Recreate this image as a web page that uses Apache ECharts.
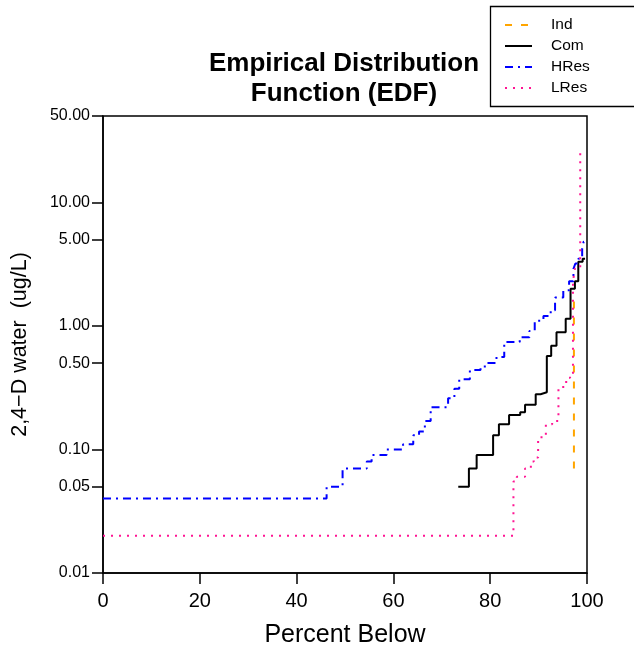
<!DOCTYPE html>
<html><head><meta charset="utf-8">
<script src="https://cdn.jsdelivr.net/npm/echarts@6/dist/echarts.min.js"></script>
<style>html,body{margin:0;padding:0;background:#fff}#c{width:634px;height:650px}</style>
</head><body><div id="c"></div>
<script>
// ---- data (percent below, concentration ug/L), each pair = start of a step level ----
const seriesNames = ['Ind', 'Com', 'HRes', 'LRes'];
const indPct = [97.3, 97.3];
const indVal = [0.07, 1.6];
const comPct = [73.4, 75.6, 77.2, 80.6, 81.8, 83.9, 86.2, 87.2, 89.4, 90.4, 91.7, 92.6, 93.7, 95.6, 96.6, 97.5, 98.2, 99.1, 99.6];
const comVal = [0.05, 0.07, 0.09, 0.13, 0.16, 0.19, 0.20, 0.23, 0.28, 0.29, 0.57, 0.69, 0.89, 1.14, 2.0, 2.3, 3.3, 3.5, 3.5];
const hresPct = [0, 46.2, 49.5, 54.5, 55.5, 58.6, 62.0, 64.1, 65.3, 66.5, 67.7, 71.3, 72.6, 73.6, 75.8, 78.0, 79.3, 81.3, 82.9, 86.1, 88.1, 89.2, 91.0, 92.5, 93.4, 95.1, 96.3, 97.2, 97.6, 98.2, 99.0, 99.3, 99.5];
const hresVal = [0.04, 0.05, 0.07, 0.08, 0.09, 0.10, 0.11, 0.13, 0.14, 0.17, 0.22, 0.26, 0.31, 0.37, 0.44, 0.47, 0.50, 0.56, 0.74, 0.81, 0.91, 1.1, 1.2, 1.34, 1.7, 1.94, 2.3, 2.9, 3.2, 3.5, 4.2, 4.8, 4.8];
const lresPct = [0, 84.8, 85.5, 87.2, 88.4, 89.0, 89.9, 90.6, 91.5, 92.8, 94.1, 95.7, 96.5, 97.1, 97.5, 98.6];
const lresVal = [0.02, 0.055, 0.06, 0.07, 0.08, 0.086, 0.12, 0.13, 0.16, 0.17, 0.32, 0.38, 0.40, 2.3, 2.9, 26];
const xTicks = [0, 20, 40, 60, 80, 100];
const yTicks = [0.01, 0.05, 0.10, 0.50, 1.00, 5.00, 10.00, 50.00];
const yMin = 0.01, yMax = 50;

const colors = { Ind: '#FFA500', Com: '#000000', HRes: '#0000FF', LRes: '#FF1493' };
const dashes = { Ind: [7, 9], Com: 'solid', HRes: [8, 5, 2, 5], LRes: [2, 6] };
const FONT = 'Liberation Sans, Arial, Helvetica, sans-serif';

function pairs(xs, ys) { return xs.map((x, i) => [x, ys[i]]); }
const dataMap = {
  Ind: pairs(indPct, indVal),
  Com: pairs(comPct, comVal),
  HRes: pairs(hresPct, hresVal),
  LRes: pairs(lresPct, lresVal)
};

const chart = echarts.init(document.getElementById('c'), null, { renderer: 'canvas' });

const legendY = [25, 46, 67, 88];
const legendGraphics = [{
  type: 'rect', shape: { x: 490.5, y: 6.5, width: 160, height: 100 },
  style: { fill: '#fff', stroke: '#000', lineWidth: 1.3 }, z: 100
}];
seriesNames.forEach((n, i) => {
  legendGraphics.push({
    type: 'line', shape: { x1: 505, y1: legendY[i], x2: 532, y2: legendY[i] },
    style: { stroke: colors[n], lineWidth: 2, lineDash: dashes[n] === 'solid' ? null : dashes[n] }, z: 101
  });
  legendGraphics.push({
    type: 'text', x: 551, y: legendY[i],
    style: { text: n, font: '15.5px ' + FONT, fill: '#000', textVerticalAlign: 'middle', verticalAlign: 'middle' }, z: 101
  });
});

const option = {
  backgroundColor: '#fff',
  animation: false,
  title: {
    text: 'Empirical Distribution\nFunction (EDF)',
    left: 339, top: 44, textAlign: 'center',
    textStyle: { fontFamily: FONT, fontSize: 26, fontWeight: 'bold', color: '#000', lineHeight: 30 }
  },
  grid: { left: 103, right: 47, top: 116, bottom: 77, show: true, borderColor: '#000', borderWidth: 1.5, backgroundColor: 'transparent', containLabel: false, outerBoundsMode: 'none' },
  xAxis: {
    type: 'value', min: xTicks[0], max: xTicks[xTicks.length - 1], interval: 20,
    name: 'Percent Below', nameLocation: 'middle', nameGap: 50,
    nameTextStyle: { fontFamily: FONT, fontSize: 25, color: '#000' },
    axisLine: { show: true, onZero: false, lineStyle: { color: '#000', width: 1.5 } },
    axisTick: { show: true, inside: false, length: 11, lineStyle: { color: '#000', width: 1.5 } },
    axisLabel: { fontFamily: FONT, fontSize: 20, color: '#000', margin: 18 },
    splitLine: { show: false }
  },
  yAxis: [
    {
      type: 'log', logBase: 10, min: yMin, max: yMax,
      axisLine: { show: true, onZero: false, lineStyle: { color: '#000', width: 1.5 } },
      axisTick: { show: false }, axisLabel: { show: false }, splitLine: { show: false }, minorTick: { show: false }
    },
    {
      type: 'value', position: 'left', min: Math.log10(yMin), max: Math.log10(yMax),
      name: '2,4\u2212D water  (ug/L)', nameLocation: 'middle', nameGap: 72, nameRotate: 90,
      nameTextStyle: { fontFamily: FONT, fontSize: 21.5, color: '#000' },
      axisLine: { show: false, onZero: false },
      axisTick: { show: true, length: 11, customValues: yTicks.map(v => Math.log10(v)), lineStyle: { color: '#000', width: 1.5 } },
      axisLabel: {
        fontFamily: FONT, fontSize: 16, color: '#000', margin: 13,
        customValues: yTicks.map(v => Math.log10(v)),
        formatter: v => Math.pow(10, v).toFixed(2)
      },
      splitLine: { show: false }
    }
  ],
  series: seriesNames.map(n => ({
    name: n, type: 'line', step: 'end', yAxisIndex: 0,
    data: dataMap[n], showSymbol: false, symbol: 'none', clip: true,
    lineStyle: { color: colors[n], width: 2, type: dashes[n], cap: 'butt' },
    z: 3
  })),
  graphic: legendGraphics
};
chart.setOption(option);
</script>
</body></html>
